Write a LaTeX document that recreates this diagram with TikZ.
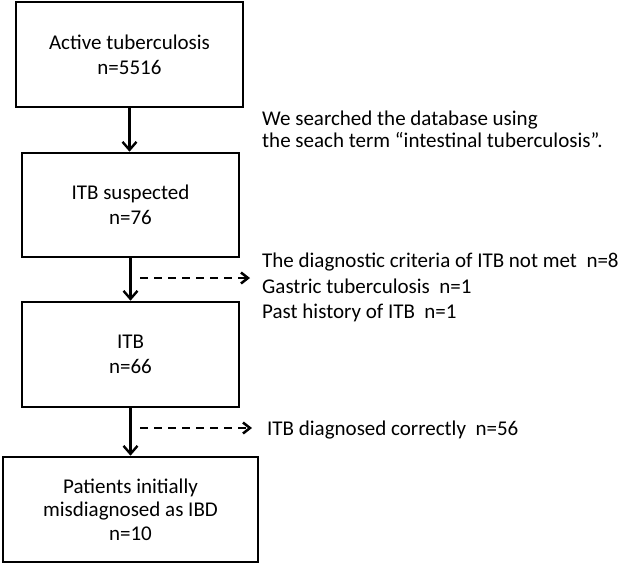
\documentclass[tikz,border=0pt]{standalone}
\usepackage{fontspec}
\setmainfont{Carlito}
\usetikzlibrary{arrows.meta}

\begin{document}
\begin{tikzpicture}[x=1pt,y=-1pt,font=\fontsize{21}{25}\selectfont,
  bx/.style={draw,line width=2.6pt,align=center,inner sep=0pt},
  ar/.style={line width=2.4pt,-{Straight Barb[length=8pt,width=14pt]}},
  dar/.style={line width=2.5pt,dash pattern=on 8pt off 6pt,
              -{Straight Barb[length=7pt,width=11pt]}},
  note/.style={align=left,inner sep=0pt}]
\useasboundingbox (0,0) rectangle (622,563);
\node[bx,minimum width=227pt,minimum height=105pt] (b1) at (129.5,54.5)
  {Active tuberculosis\\n=5516};
\node[bx,minimum width=217pt,minimum height=104pt] (b2) at (130.5,205)
  {ITB suspected\\n=76};
\node[bx,minimum width=217pt,minimum height=105pt] (b3) at (130.5,354.5)
  {ITB\\n=66};
\node[bx,minimum width=255pt,minimum height=105pt,
      font=\fontsize{21}{23.5}\selectfont] (b4) at (130.5,509.5)
  {Patients initially\\misdiagnosed as IBD\\n=10};
\node[note,anchor=north west,font=\fontsize{21}{22}\selectfont] (n1) at (262,111)
  {We searched the database using\\the seach term “intestinal tuberculosis”.};
\node[note,anchor=north west,font=\fontsize{21}{25.5}\selectfont] (n2) at (262,253)
  {The diagnostic criteria of ITB not met\ \ n=8\\
   Gastric tuberculosis\ \ n=1\\Past history of ITB\ \ n=1};
\node[note,anchor=base west] (n3) at (267,435)
  {ITB diagnosed correctly\ \ n=56};
\coordinate (d1) at (140,278);
\coordinate (e1) at (250,278);
\coordinate (d2) at (140,428);
\coordinate (e2) at (252,428);
\draw[ar] (b1.south) -- (b1.south |- b2.north);
\draw[ar] (b2.south) -- (b2.south |- b3.north);
\draw[ar] (b3.south) -- (b3.south |- b4.north);
\draw[dar] (d1) -- (e1);
\draw[dar] (d2) -- (e2);
\end{tikzpicture}
\end{document}
